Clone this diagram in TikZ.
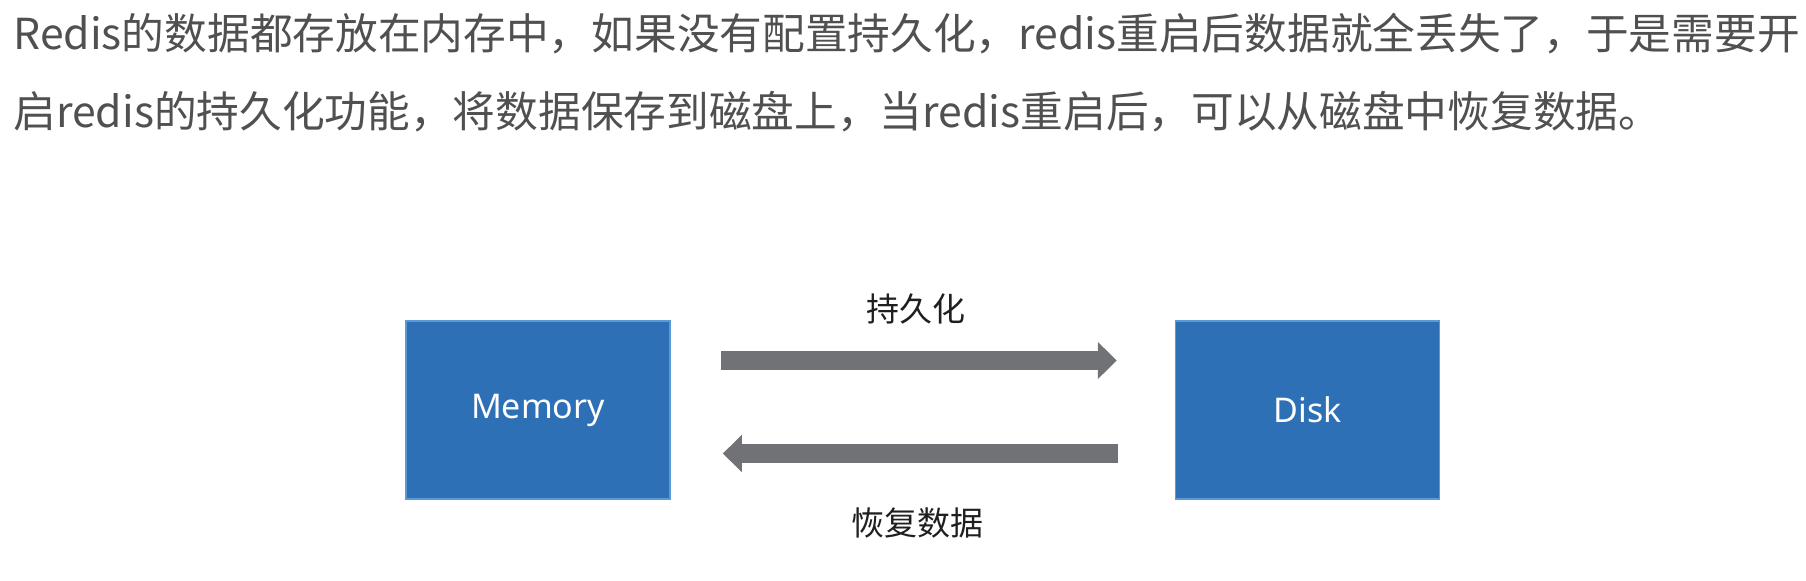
\documentclass[tikz,border=0pt]{standalone}
\usepackage{fontspec}
\setmainfont{Noto Sans CJK SC}
\newfontfamily\boxfont{Noto Sans}
\usepackage{xcolor}
\usetikzlibrary{positioning, calc, arrows.meta}
\definecolor{boxblue}{HTML}{2E70B5}
\definecolor{boxedge}{HTML}{5B9BD5}
\definecolor{flowgray}{HTML}{707276}
\definecolor{textgray}{HTML}{505050}

\begin{document}
\begin{tikzpicture}[x=0.5pt, y=-0.5pt]
	\tikzset{store/.style={draw=boxedge, line width=0.8pt, fill=boxblue, minimum width=132pt, minimum height=89pt, inner sep=0pt, text=white, font=\boxfont\fontsize{17}{20}\selectfont}}
	\tikzset{flow/.style={flowgray, line width=9.5pt, -{Triangle[width=18pt, length=9.5pt]}}}
	\tikzset{caption/.style={text=black!88, inner sep=0pt, font=\fontsize{16.5}{20}\selectfont}}
	\tikzset{intro/.style={anchor=base west, inner sep=0pt, text=textgray, font=\fontsize{21.35}{29}\selectfont}}

	\useasboundingbox (0,0) rectangle (1806,580);

	% the two lines of text above the picture
	\node (introA) [intro] at (13,49) {Redis的数据都存放在内存中，如果没有配置持久化，redis重启后数据就全丢失了，于是需要开};
	\node (introB) [intro] at (13,127) {启redis的持久化功能，将数据保存到磁盘上，当redis重启后，可以从磁盘中恢复数据。};

	\node (mem) [store] at (538,410) {Memory};
	\node (disk) [store, right=252pt of mem] {Disk};

	\draw[flow, shorten <=25pt, shorten >=29pt] ([yshift=24.75pt]mem.east) -- ([yshift=24.75pt]disk.west);
	\draw[flow, shorten <=28.5pt, shorten >=26pt] ([yshift=-21.75pt]disk.west) -- ([yshift=-21.75pt]mem.east);

	\node (persist) [caption] at ($(mem.north east)!0.5!(disk.north west)+(-7,-11)$) {持久化};
	\node (restore) [caption] at ($(mem.south east)!0.5!(disk.south west)+(-5,23)$) {恢复数据};
\end{tikzpicture}
\end{document}
